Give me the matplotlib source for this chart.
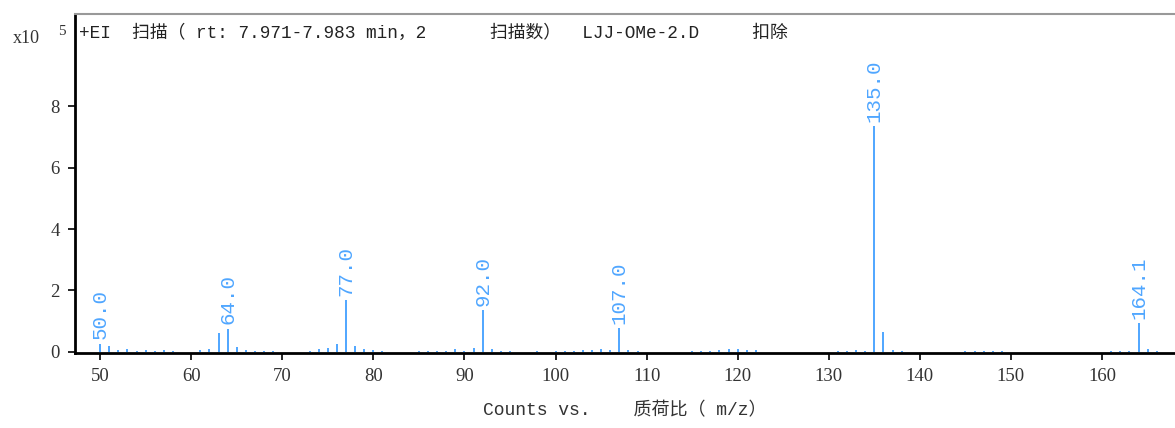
import matplotlib
matplotlib.use("Agg")
import matplotlib.pyplot as plt

# EI mass spectrum, intensities in units of 1e5 counts
mz = [50, 51, 52, 53, 54, 55, 56, 57, 58, 61, 62, 63, 64, 65, 66, 67, 68, 69,
      73, 74, 75, 76, 77, 78, 79, 80, 81, 85, 86, 87, 88, 89, 90, 91, 92, 93, 94,
      95, 98, 100, 101, 102, 103, 104, 105, 106, 107, 108, 109, 115, 116, 117,
      118, 119, 120, 121, 122, 131, 132, 133, 134, 135, 136, 137, 138, 145, 146,
      147, 148, 149, 161, 162, 163, 164.1, 165, 166]
intensity = [0.27, 0.2, 0.06, 0.1, 0.03, 0.07, 0.03, 0.06, 0.03, 0.06, 0.1,
             0.6, 0.76, 0.17, 0.06, 0.04, 0.04, 0.04,
             0.04, 0.1, 0.12, 0.27, 1.68, 0.2, 0.1, 0.05, 0.03, 0.03, 0.03, 0.03,
             0.04, 0.08, 0.04, 0.12, 1.35, 0.1, 0.04,
             0.03, 0.03, 0.03, 0.03, 0.04, 0.06, 0.07, 0.09, 0.05, 0.78, 0.05, 0.03,
             0.03, 0.03, 0.04, 0.05, 0.08, 0.08, 0.07, 0.05,
             0.03, 0.04, 0.07, 0.04, 7.36, 0.65, 0.07, 0.03, 0.03, 0.03,
             0.03, 0.04, 0.03, 0.03, 0.03, 0.04, 0.95, 0.1, 0.03]
labeled = [50.0, 64.0, 77.0, 92.0, 107.0, 135.0, 164.1]

title = "+EI  扫描（ rt: 7.971-7.983 min，2      扫描数）  LJJ-OMe-2.D     扣除"
xlabel = "Counts vs.    质荷比（ m/z）"
xticks = list(range(50, 161, 10))
yticks = [0, 2, 4, 6, 8]

blue = "#4fa6ff"
mono_cjk = ["Liberation Mono", "Noto Sans CJK SC"]

fig = plt.figure(figsize=(11.75, 4.28), dpi=100)
ax = fig.add_axes([0.0638, 0.175, 0.94, 0.792])

ax.vlines(mz, 0, intensity, colors=blue, linewidth=1.4)
for m in labeled:
    h = intensity[mz.index(m)]
    ax.annotate(f"{m:.1f}", (m, h), xytext=(0, 3), textcoords="offset points",
                rotation=90, ha="center", va="bottom", color=blue,
                fontsize=15, family="Liberation Mono")

ax.set_xlim(47.24, 168.5)
ax.set_ylim(-0.04, 11.0)
ax.set_xticks(xticks)
ax.set_yticks(yticks)
for lbl in ax.get_xticklabels() + ax.get_yticklabels():
    lbl.set_family("Liberation Serif")
    lbl.set_fontsize(13.5)
    lbl.set_color("#333333")
ax.tick_params(direction="out", length=5, width=1.2, pad=6)

ax.spines["left"].set_linewidth(2)
ax.spines["bottom"].set_linewidth(2)
ax.spines["top"].set_color("#999999")
ax.spines["top"].set_linewidth(1.5)
ax.spines["right"].set_visible(False)

ax.text(0.004, 0.968, title, transform=ax.transAxes, ha="left", va="top",
        fontsize=12.8, family=mono_cjk, color="#222222")
fig.text(0.011, 0.91, "x10", fontsize=13, family="Liberation Serif",
         color="#333333", va="center")
fig.text(0.049, 0.926, "5", fontsize=11, family="Liberation Serif",
         color="#333333", va="center")
fig.text(0.532, 0.04, xlabel, ha="center", va="center", fontsize=13,
         family=mono_cjk, color="#333333")

fig.savefig("out.png", dpi=100)
